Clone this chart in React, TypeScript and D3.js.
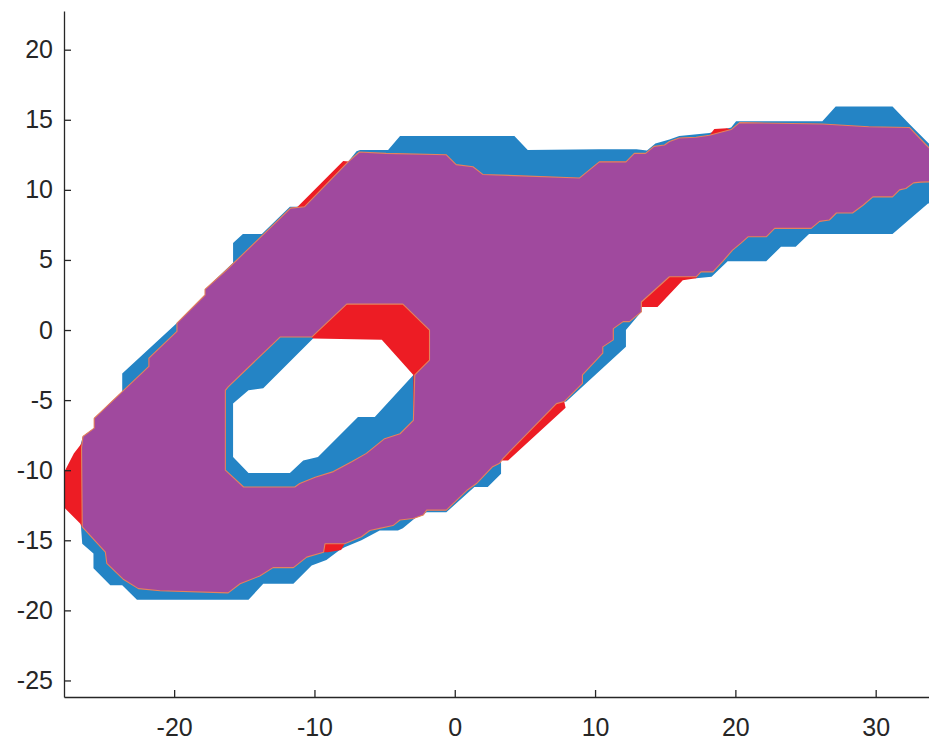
import React, { useEffect, useRef } from 'react';
import * as d3 from 'd3';

type Pt = [number, number];

// region A (blue), outline + hole
const blueOuter: Pt[] = [
  [-26.7, -8.3], [-26.5, -7.6], [-25.7, -7.0], [-25.7, -6.3], [-23.7, -4.4], [-23.7, -3.1],
  [-19.8, 0.5], [-17.8, 2.5], [-17.8, 2.9], [-15.8, 4.8], [-15.8, 6.2], [-15.1, 6.85],
  [-13.75, 6.85], [-11.75, 8.8], [-10.7, 8.8], [-7.6, 12.0], [-7.0, 12.75], [-6.75, 12.85],
  [-4.75, 12.85], [-3.9, 13.85], [4.25, 13.85], [5.2, 12.85], [10.3, 12.9], [12.95, 12.9],
  [13.7, 12.8], [14.3, 13.3], [15.3, 13.6], [16.0, 13.85], [18.15, 14.05], [19.7, 14.45],
  [20.05, 14.9], [26.2, 14.9], [27.15, 15.95], [31.2, 15.95],
  [32.4, 14.7], [33.75, 13.35], [34.5, 12.6],
  [34.5, 8.4], [33.75, 9.05], [31.2, 6.85], [25.25, 6.85], [24.3, 5.95], [23.25, 5.95],
  [22.2, 4.9], [19.45, 4.9], [18.3, 3.8], [17.2, 3.7], [15.3, 3.8], [13.3, 2.0], [13.3, 1.3],
  [12.2, 0.0], [12.2, -1.2], [7.95, -5.1], [7.25, -5.25], [3.45, -9.15], [3.3, -9.3],
  [3.3, -10.25], [2.35, -11.2], [1.4, -11.2], [-0.6, -13.0], [-2.0, -13.0], [-2.75, -13.35],
  [-3.7, -14.15], [-4.05, -14.3], [-5.35, -14.3], [-6.65, -15.0], [-7.85, -15.5], [-8.2, -15.7],
  [-9.15, -16.4], [-10.2, -16.8], [-11.5, -18.1], [-13.65, -18.1], [-14.7, -19.25],
  [-22.65, -19.25], [-23.7, -18.2], [-24.55, -18.2], [-25.75, -17.0], [-25.75, -15.95],
  [-26.55, -15.25], [-26.65, -13.9],
];
const blueHole: Pt[] = [
  [-15.8, -5.25], [-14.7, -4.3], [-13.65, -4.15], [-10.1, -0.6], [-7.7, 1.85], [-3.7, 1.85],
  [-1.8, 0], [-1.8, -2.15], [-2.95, -3.2], [-5.7, -6.2], [-6.9, -6.2], [-9.75, -9.05],
  [-10.8, -9.3], [-11.75, -10.2], [-14.7, -10.2], [-15.8, -9.05],
];

// region B (red)
const redOuter: Pt[] = [
  [-26.6, -8.1], [-26.5, -7.6], [-25.7, -7.0], [-25.7, -6.3], [-23.7, -4.4], [-21.8, -2.6],
  [-21.8, -2.0], [-19.8, -0.1], [-19.8, 0.5], [-17.8, 2.5], [-17.8, 2.9], [-16.25, 4.3],
  [-11.7, 8.7], [-11.2, 8.8], [-7.95, 12.05], [-7.4, 12.0], [-6.8, 12.7], [-4.9, 12.6], [-0.6, 12.5],
  [0.1, 11.8], [1.3, 11.65], [2.0, 11.1], [8.9, 10.85], [10.3, 12.0], [12.2, 12.0],
  [12.8, 12.6], [13.6, 12.6], [14.2, 13.1], [14.95, 13.2], [15.3, 13.45], [16.0, 13.7],
  [17.2, 13.75], [18.15, 13.9], [18.5, 14.35], [19.4, 14.4], [19.7, 14.3], [20.3, 14.8],
  [26.2, 14.7], [29.5, 14.5], [32.4, 14.45], [33.6, 13.2], [34.5, 12.3],
  [34.5, 10.6], [33.2, 10.55], [32.7, 10.5], [32.15, 10.1], [31.7, 10.0], [31.2, 9.5],
  [29.8, 9.5], [29.1, 8.9], [28.35, 8.35], [27.2, 8.35], [26.7, 7.85], [26.0, 7.75],
  [25.4, 7.25], [22.8, 7.25], [22.2, 6.65], [20.9, 6.65], [20.4, 6.2], [19.8, 5.7],
  [19.1, 4.9], [18.4, 4.15], [17.55, 4.15], [17.2, 3.7], [16.25, 3.55], [14.45, 1.65],
  [13.3, 1.65], [13.3, 1.3], [12.45, 0.6], [12.0, 0.6], [11.3, 0.1], [11.3, -0.7],
  [10.55, -1.2], [10.55, -1.65], [9.1, -3.2], [9.1, -3.8], [7.8, -5.1], [7.9, -5.55],
  [3.8, -9.3], [3.35, -9.3], [3.2, -9.5], [2.7, -9.75], [1.55, -10.95], [0.85, -11.45],
  [-0.6, -12.85], [-2.0, -12.85], [-2.25, -13.2], [-2.95, -13.45], [-3.9, -13.55],
  [-4.4, -13.95], [-5.35, -14.15], [-6.05, -14.3], [-6.65, -14.75], [-7.85, -15.25],
  [-8.1, -15.7], [-9.05, -15.85], [-9.35, -15.85], [-10.55, -16.2], [-11.5, -16.95],
  [-12.95, -16.95], [-13.9, -17.55], [-15.3, -18.1], [-16.15, -18.75], [-21.0, -18.6],
  [-22.55, -18.45], [-23.6, -17.8], [-24.8, -16.65], [-24.9, -15.85], [-26.55, -14.05],
  [-26.7, -13.8], [-28.35, -12.15], [-28.35, -11.15], [-27.15, -8.8],
];
const redHole: Pt[] = [
  [-16.15, -4.05], [-12.45, -0.5], [-10.2, -0.5], [-10.1, -0.6], [-5.2, -0.7], [-2.95, -3.2],
  [-2.95, -6.45], [-3.9, -7.4], [-5.0, -7.75], [-6.3, -8.8], [-7.35, -9.4], [-8.65, -10.1],
  [-9.95, -10.5], [-11.05, -10.95], [-11.4, -11.2], [-15.05, -11.2], [-16.35, -10.0],
  [-16.35, -4.3],
];

// overlap (purple)
const purpleOuter: Pt[] = [
  [-26.6, -8.4], [-26.5, -7.6], [-25.7, -7.0], [-25.7, -6.3], [-23.7, -4.4], [-21.8, -2.6],
  [-21.8, -2.0], [-19.8, -0.1], [-19.8, 0.5], [-17.8, 2.5], [-17.8, 2.9], [-16.25, 4.3],
  [-11.7, 8.7], [-10.7, 8.8], [-7.6, 12.0], [-6.8, 12.7], [-4.9, 12.6], [-0.6, 12.5],
  [0.1, 11.8], [1.3, 11.65], [2.0, 11.1], [8.9, 10.85], [10.3, 12.0], [12.2, 12.0],
  [12.8, 12.6], [13.6, 12.6], [14.2, 13.1], [14.95, 13.2], [15.3, 13.45], [16.0, 13.7],
  [17.2, 13.75], [18.15, 13.9], [19.7, 14.3], [20.3, 14.8], [26.2, 14.7], [29.5, 14.5],
  [32.4, 14.45], [33.6, 13.2], [34.5, 12.3],
  [34.5, 10.6], [33.2, 10.55], [32.7, 10.5], [32.15, 10.1], [31.7, 10.0], [31.2, 9.5],
  [29.8, 9.5], [29.1, 8.9], [28.35, 8.35], [27.2, 8.35], [26.7, 7.85], [26.0, 7.75],
  [25.4, 7.25], [22.8, 7.25], [22.2, 6.65], [20.9, 6.65], [20.4, 6.2], [19.8, 5.7],
  [19.1, 4.9], [18.4, 4.15], [17.55, 4.15], [17.2, 3.8], [15.3, 3.8], [13.3, 2.0],
  [13.3, 1.3], [12.45, 0.6], [12.0, 0.6], [11.3, 0.1], [11.3, -0.7], [10.55, -1.2],
  [10.55, -1.65], [9.1, -3.2], [9.1, -3.8], [7.8, -5.1], [7.25, -5.25], [3.45, -9.15],
  [3.2, -9.5], [2.7, -9.75], [1.55, -10.95], [0.85, -11.45], [-0.6, -12.85], [-2.0, -12.85],
  [-2.25, -13.2], [-2.95, -13.45], [-3.9, -13.55], [-4.4, -13.95], [-5.35, -14.15],
  [-6.05, -14.3], [-6.65, -14.75], [-7.85, -15.25], [-9.25, -15.25], [-9.35, -15.85],
  [-10.55, -16.2], [-11.5, -16.95], [-12.95, -16.95], [-13.9, -17.55], [-15.3, -18.1],
  [-16.15, -18.75], [-21.0, -18.6], [-22.55, -18.45], [-23.6, -17.8], [-24.8, -16.65],
  [-24.9, -15.85], [-26.55, -14.05],
];
const purpleHole: Pt[] = [
  [-16.15, -4.05], [-12.45, -0.5], [-10.2, -0.5], [-7.7, 1.85], [-3.7, 1.85], [-1.8, 0],
  [-1.8, -2.15], [-2.85, -3.2], [-2.95, -6.45], [-3.9, -7.4], [-5.0, -7.75], [-6.3, -8.8],
  [-7.35, -9.4], [-8.65, -10.1], [-9.95, -10.5], [-11.05, -10.95], [-11.4, -11.2],
  [-15.05, -11.2], [-16.35, -10.0], [-16.35, -4.3],
];

const xTicks = [-20, -10, 0, 10, 20, 30];
const yTicks = [-25, -20, -15, -10, -5, 0, 5, 10, 15, 20];

const shapes = [
  { name: 'A', outer: blueOuter, hole: blueHole, color: '#2484c5', edge: 'none' },
  { name: 'B', outer: redOuter, hole: redHole, color: '#ed1c24', edge: 'none' },
  { name: 'AB', outer: purpleOuter, hole: purpleHole, color: '#a0499e', edge: '#e3835e' },
];

function App() {
  const ref = useRef<SVGSVGElement>(null);

  useEffect(() => {
    const svg = d3.select(ref.current);
    svg.selectAll('*').remove();

    const x = d3.scaleLinear().domain([-27.85, 33.8]).range([64, 929]);
    const y = d3.scaleLinear().domain([-26.18, 22.76]).range([697, 11]);

    const line = d3.line<Pt>().x(d => x(d[0])).y(d => y(d[1]));

    svg.append('defs').append('clipPath').attr('id', 'plotclip')
      .append('rect')
      .attr('x', x.range()[0]).attr('y', y.range()[1])
      .attr('width', x.range()[1] - x.range()[0])
      .attr('height', y.range()[0] - y.range()[1]);

    const g = svg.append('g').attr('clip-path', 'url(#plotclip)');

    g.selectAll('path.shape')
      .data(shapes)
      .enter().append('path')
      .attr('class', 'shape')
      .attr('d', d => line(d.outer) + 'Z' + line(d.hole) + 'Z')
      .attr('fill', d => d.color)
      .attr('fill-rule', 'evenodd')
      .attr('stroke', d => d.edge)
      .attr('stroke-width', 1.1)
      .attr('stroke-linejoin', 'round');

    const fmt = (d: d3.NumberValue) => String(d);

    const yAxis = svg.append('g')
      .attr('transform', 'translate(' + x.range()[0] + ',0)')
      .call(d3.axisLeft(y).tickValues(yTicks).tickSize(-7).tickSizeOuter(0).tickPadding(11).tickFormat(fmt));

    const xAxis = svg.append('g')
      .attr('transform', 'translate(0,' + y.range()[0] + ')')
      .call(d3.axisBottom(x).tickValues(xTicks).tickSize(-7).tickSizeOuter(0).tickPadding(21).tickFormat(fmt));

    [xAxis, yAxis].forEach(a => {
      a.selectAll('path').attr('stroke', '#262626').attr('stroke-width', 1.3);
      a.selectAll('line').attr('stroke', '#262626').attr('stroke-width', 1.3);
      a.selectAll('text')
        .attr('fill', '#262626')
        .style('font-family', '"Liberation Sans", Arial, sans-serif')
        .style('font-size', '25px');
    });
  }, []);

  return (
    <svg ref={ref} width={929} height={742}
      style={{ position: 'absolute', left: 0, top: 0, background: '#fff' }} />
  );
}

export default App;
